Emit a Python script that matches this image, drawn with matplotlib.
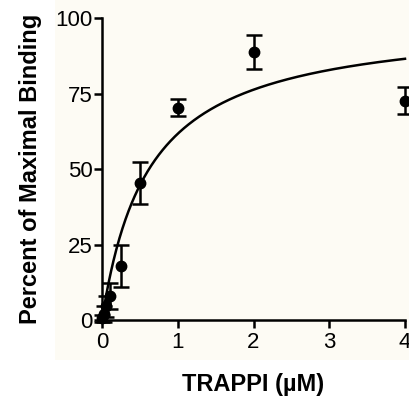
import matplotlib
matplotlib.use("Agg")
import matplotlib.pyplot as plt
import numpy as np
from matplotlib.patches import Rectangle

# TRAPPI concentration (uM) and binding (% of max), mean +/- error
conc = [0.0, 0.025, 0.05, 0.1, 0.25, 0.5, 1.0, 2.0, 4.0]
binding = [0.5, 2.0, 4.6, 8.0, 17.9, 45.5, 70.4, 88.9, 72.7]
err = [1.0, 2.5, 3.5, 4.4, 7.0, 6.9, 2.7, 5.7, 4.5]

# one-site binding fit
bmax = 100.0
kd = 0.62

xticks = [0, 1, 2, 3, 4]
yticks = [0, 25, 50, 75, 100]

plt.rcParams["font.family"] = ["Liberation Sans", "DejaVu Sans"]

fig = plt.figure(figsize=(4.09, 3.96), dpi=100)
bg = Rectangle((55 / 409, 36 / 396), 1, 1, transform=fig.transFigure,
               facecolor="#fdfbf4", edgecolor="none", zorder=-10)
fig.add_artist(bg)
ax = fig.add_axes([102 / 409, 76 / 396, 303 / 409, 301.7 / 396])
ax.set_facecolor("none")

xfit = np.linspace(0, 4, 400)
ax.plot(xfit, bmax * xfit / (kd + xfit), color="black", lw=1.8, clip_on=False)
ax.errorbar(conc, binding, yerr=err, fmt="o", color="black", ms=7.5,
            capsize=6, elinewidth=1.8, capthick=1.8, clip_on=False, zorder=5)

ax.set_xlim(0, 4)
ax.set_ylim(0, 100)
ax.set_xticks(xticks)
ax.set_yticks(yticks)
for side in ("top", "right"):
    ax.spines[side].set_visible(False)
for side in ("left", "bottom"):
    ax.spines[side].set_linewidth(1.8)
ax.tick_params(width=1.8, length=6, labelsize=16, colors="black")
ax.tick_params(axis="y", pad=0.5)
ax.tick_params(axis="x", pad=3)
ax.set_xlabel("TRAPPI (µM)", fontsize=17, fontweight="bold", labelpad=14)
ax.set_ylabel("Percent of Maximal Binding", fontsize=17, fontweight="bold", labelpad=10)

fig.savefig("out.png", dpi=100)
